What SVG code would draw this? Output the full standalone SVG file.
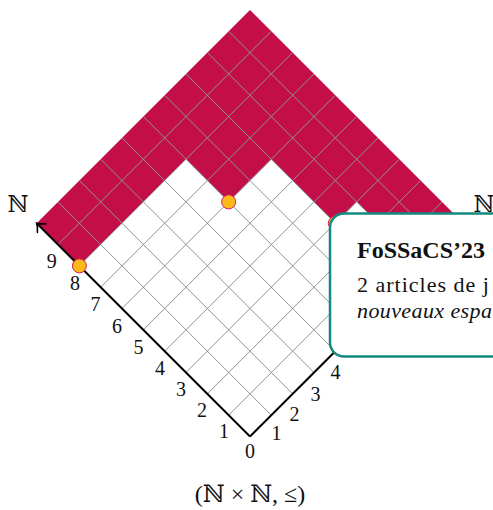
<svg xmlns="http://www.w3.org/2000/svg" width="493" height="510" viewBox="0 0 493 510">
<style>
.grid{stroke:#8a959b;stroke-width:1;fill:none}
.axis{stroke:#000;stroke-width:2;fill:none}
.dot{fill:#fbb919;stroke:#d81c4f;stroke-width:1}
.num{font-family:"Liberation Serif",serif;font-size:20px;fill:#111;text-anchor:middle;dominant-baseline:central}
.nat{font-family:"DejaVu Serif",serif;font-size:23px;fill:#111;text-anchor:middle}
.box{fill:#fff;stroke:#138a80;stroke-width:2.5}
.t{font-family:"Liberation Serif",serif;fill:#111}
</style>
<defs>
<marker id="arr" markerUnits="userSpaceOnUse" markerWidth="20" markerHeight="20" refX="0" refY="0" viewBox="-10 -10 20 20" orient="auto" overflow="visible">
<path d="M-7,-6 Q-3,-1.5 0,0 Q-3,1.5 -7,6" fill="none" stroke="#000" stroke-width="1.6" stroke-linecap="round"/>
</marker>
</defs>
<g id="upset">
<polygon fill="#c40e48" points="36.7,223.2 250,9.9 463.3,223.2 420.64,265.86 356.65,201.87 335.32,223.2 271.33,159.21 228.67,201.87 186.01,159.21 79.36,265.86"/>
</g>
<g id="grid" class="grid">
<line x1="228.67" y1="415.17" x2="441.97" y2="201.87"/>
<line x1="207.34" y1="393.84" x2="420.64" y2="180.54"/>
<line x1="186.01" y1="372.51" x2="399.31" y2="159.21"/>
<line x1="164.68" y1="351.18" x2="377.98" y2="137.88"/>
<line x1="143.35" y1="329.85" x2="356.65" y2="116.55"/>
<line x1="122.02" y1="308.52" x2="335.32" y2="95.22"/>
<line x1="100.69" y1="287.19" x2="313.99" y2="73.89"/>
<line x1="79.36" y1="265.86" x2="292.66" y2="52.56"/>
<line x1="58.03" y1="244.53" x2="271.33" y2="31.23"/>
<line x1="271.33" y1="415.17" x2="58.03" y2="201.87"/>
<line x1="292.66" y1="393.84" x2="79.36" y2="180.54"/>
<line x1="313.99" y1="372.51" x2="100.69" y2="159.21"/>
<line x1="335.32" y1="351.18" x2="122.02" y2="137.88"/>
<line x1="356.65" y1="329.85" x2="143.35" y2="116.55"/>
<line x1="377.98" y1="308.52" x2="164.68" y2="95.22"/>
<line x1="399.31" y1="287.19" x2="186.01" y2="73.89"/>
<line x1="420.64" y1="265.86" x2="207.34" y2="52.56"/>
<line x1="441.97" y1="244.53" x2="228.67" y2="31.23"/>
</g>
<g id="connectors">
<line class="axis" x1="250" y1="436.5" x2="36.7" y2="223.2" marker-end="url(#arr)"/>
<line class="axis" x1="250" y1="436.5" x2="463.3" y2="223.2" marker-end="url(#arr)"/>
</g>
<g id="minimal">
<circle class="dot" cx="79.36" cy="265.86" r="7"/>
<circle class="dot" cx="228.67" cy="201.87" r="7"/>
<circle class="dot" cx="335.32" cy="223.2" r="7"/>
</g>
<g id="labels-left">
<text class="num" x="51.7" y="261">9</text>
<text class="num" x="75" y="283">8</text>
<text class="num" x="95.5" y="304">7</text>
<text class="num" x="117" y="326">6</text>
<text class="num" x="138.5" y="347">5</text>
<text class="num" x="160" y="368">4</text>
<text class="num" x="181" y="389">3</text>
<text class="num" x="202" y="410">2</text>
<text class="num" x="224" y="431">1</text>
<text class="num" x="250" y="451">0</text>
</g>
<g id="labels-right">
<text class="num" x="276.5" y="433">1</text>
<text class="num" x="294.5" y="414">2</text>
<text class="num" x="315.5" y="394">3</text>
<text class="num" x="335.5" y="372">4</text>
</g>
<g id="axis-names">
<text class="nat" x="18" y="212">ℕ</text>
<text class="nat" x="484" y="212">ℕ</text>
</g>
<g id="note">
<rect class="box" x="330" y="213.5" width="200" height="143" rx="14"/>
<text class="t" x="357" y="258" font-size="24" font-weight="bold">FoSSaCS’23</text>
<text class="t" x="357" y="292" font-size="22" letter-spacing="1">2 articles de j</text>
<text class="t" x="357" y="318" font-size="22" font-style="italic" letter-spacing="0.4">nouveaux espa</text>
</g>
<g id="caption">
<text x="250" y="502" font-family="Liberation Serif, DejaVu Serif, serif" font-size="24" text-anchor="middle" fill="#111">(ℕ × ℕ, ≤)</text>
</g>
</svg>
